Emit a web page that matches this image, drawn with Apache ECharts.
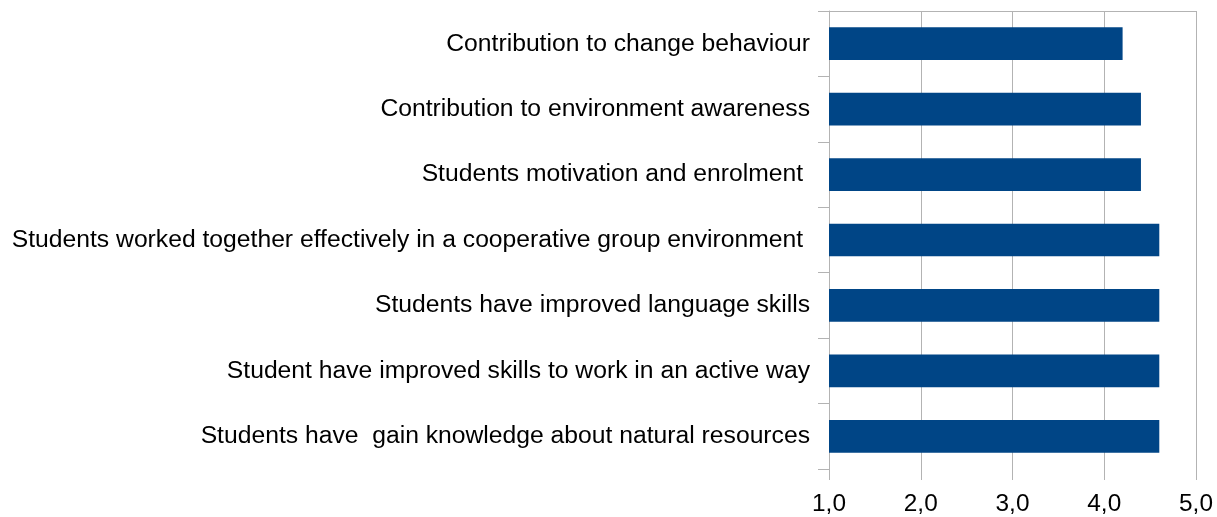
<!DOCTYPE html>
<html>
<head>
<meta charset="utf-8">
<script src="https://cdn.jsdelivr.net/npm/echarts@6/dist/echarts.min.js"></script>
<style>
  html, body { margin: 0; padding: 0; background: #fff; }
  #chart { width: 1217px; height: 517px; }
</style>
</head>
<body>
<div id="chart"></div>
<script>
// categories, top to bottom as in the picture
var categories = [
  'Contribution to change behaviour',
  'Contribution to environment awareness',
  'Students motivation and enrolment ',
  'Students worked together effectively in a cooperative group environment ',
  'Students have improved language skills',
  'Student have improved skills to work in an active way',
  'Students have  gain knowledge about natural resources'
];
var scores = [4.2, 4.4, 4.4, 4.6, 4.6, 4.6, 4.6];
var xTicks = [1, 2, 3, 4, 5];

var chart = echarts.init(document.getElementById('chart'));
var gridColor = '#b3b3b3';
var font = '"Liberation Sans", Arial, sans-serif';

var option = {
  animation: false,
  grid: { left: 829, right: 21, top: 11, bottom: 48, containLabel: false },
  xAxis: [
    {
      type: 'value',
      min: xTicks[0],
      max: xTicks[xTicks.length - 1],
      interval: 1,
      position: 'bottom',
      axisLine: { show: false },
      axisTick: { show: true, length: 11, lineStyle: { color: gridColor } },
      splitLine: { show: true, lineStyle: { color: gridColor, width: 1 } },
      axisLabel: {
        fontFamily: font, fontSize: 24.4, color: '#000', margin: 23,
        formatter: function (v) { return v.toFixed(1).replace('.', ','); }
      }
    },
    {
      type: 'value',
      min: xTicks[0],
      max: xTicks[xTicks.length - 1],
      position: 'top',
      axisLine: { show: true, lineStyle: { color: gridColor } },
      axisTick: { show: false },
      axisLabel: { show: false },
      splitLine: { show: false }
    }
  ],
  yAxis: {
    type: 'category',
    inverse: true,
    data: categories,
    axisLine: { show: true, lineStyle: { color: gridColor } },
    axisTick: { show: true, length: 11, lineStyle: { color: gridColor } },
    axisLabel: { fontFamily: font, fontSize: 24.7, color: '#000', margin: 19, padding: [3, 0, 0, 0] },
    splitLine: { show: false }
  },
  series: [{
    type: 'bar',
    data: scores,
    barWidth: '50%',
    itemStyle: { color: '#004586' }
  }]
};
chart.setOption(option);
</script>
</body>
</html>
